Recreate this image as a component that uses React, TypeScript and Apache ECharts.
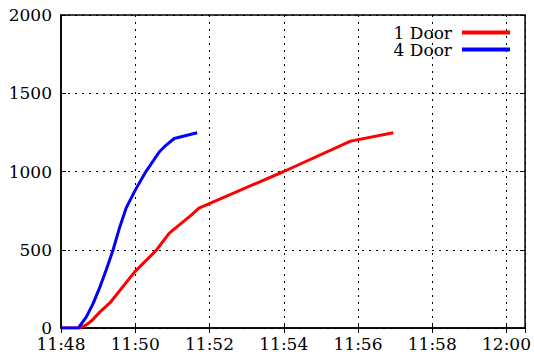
import React, { useEffect, useRef } from "react";
import * as echarts from "echarts";

// Cumulative count over time for the two door configurations
const doorOneTimes = ["11:48:00", "11:48:30", "11:48:40", "11:48:50", "11:49:03", "11:49:19", "11:49:59", "11:50:34", "11:50:55", "11:51:30", "11:51:43", "11:54:00", "11:55:48", "11:56:57"];
const doorOneCounts = [0, 0, 18, 48, 103, 160, 359, 497, 606, 720, 766, 1000, 1194, 1248];

const doorFourTimes = ["11:48:00", "11:48:28", "11:48:41", "11:48:52", "11:49:03", "11:49:13", "11:49:24", "11:49:35", "11:49:45", "11:50:00", "11:50:17", "11:50:39", "11:50:50", "11:51:03", "11:51:40"];
const doorFourCounts = [0, 0, 71, 157, 263, 370, 497, 646, 764, 881, 998, 1126, 1169, 1211, 1248];

const seriesNames = ["1 Door", "4 Door"];
const axisStart = "11:48:00";
const axisEnd = "12:00:30";
const tickStepMinutes = 2;
const yMax = 2000;
const yStep = 500;

const toMs = (hms: string) => {
  const [h, m, s] = hms.split(":").map(Number);
  return Date.UTC(2000, 0, 1, h, m, s);
};

const pad = (n: number) => String(n).padStart(2, "0");

export default function App() {
  const ref = useRef<HTMLDivElement>(null);

  useEffect(() => {
    if (!ref.current) return;
    const chart = echarts.init(ref.current, undefined, { renderer: "svg" });
    const font = "DejaVu Serif";
    const fontSize = 17;
    const xMin = toMs(axisStart);
    const xMax = toMs(axisEnd);
    const step = tickStepMinutes * 60000;
    const fmtTime = (v: number) => {
      if ((v - xMin) % step !== 0) return "";
      const d = new Date(v);
      return `${pad(d.getUTCHours())}:${pad(d.getUTCMinutes())}`;
    };
    const gridDash = { type: [2, 5] as number[], color: "#000", width: 1 };
    const tick = { show: true, inside: true, length: 5, lineStyle: { color: "#000" } };

    chart.setOption({
      animation: false,
      backgroundColor: "#fff",
      textStyle: { fontFamily: font },
      grid: {
        left: 61,
        top: 15,
        right: 5,
        bottom: 30,
        show: true,
        borderColor: "#000",
        borderWidth: 1.5,
        backgroundColor: "transparent",
      },
      legend: {
        orient: "vertical",
        right: 19,
        top: 19,
        align: "right",
        icon: "rect",
        itemWidth: 48,
        itemHeight: 4,
        itemGap: 0,
        textStyle: { fontFamily: font, fontSize, color: "#000", lineHeight: 17, padding: [0, 5, 0, 0] },
        data: seriesNames,
      },
      xAxis: [
        {
          type: "value",
          min: xMin,
          max: xMax,
          interval: step,
          axisLine: { show: true, lineStyle: { color: "#000", width: 1.5 } },
          axisTick: tick,
          axisLabel: { formatter: fmtTime, fontFamily: font, fontSize, lineHeight: 14, color: "#000", margin: 9 },
          splitLine: { show: true, lineStyle: gridDash },
        },
        {
          type: "value",
          position: "top",
          min: xMin,
          max: xMax,
          interval: step,
          axisLine: { show: false },
          axisTick: tick,
          axisLabel: { show: false },
          splitLine: { show: false },
        },
      ],
      yAxis: [
        {
          type: "value",
          min: 0,
          max: yMax,
          interval: yStep,
          axisLine: { show: true, lineStyle: { color: "#000", width: 1.5 } },
          axisTick: tick,
          axisLabel: { formatter: (v: number) => String(v), fontFamily: font, fontSize, lineHeight: 14, color: "#000", margin: 9 },
          splitLine: { show: true, lineStyle: gridDash },
        },
        {
          type: "value",
          position: "right",
          min: 0,
          max: yMax,
          interval: yStep,
          axisLine: { show: false },
          axisTick: tick,
          axisLabel: { show: false },
          splitLine: { show: false },
        },
      ],
      series: [
        {
          name: seriesNames[0],
          type: "line",
          xAxisIndex: 0,
          yAxisIndex: 0,
          showSymbol: false,
          color: "#ff0000",
          lineStyle: { color: "#ff0000", width: 3 },
          data: doorOneTimes.map((t, i) => [toMs(t), doorOneCounts[i]]),
          z: 3,
        },
        {
          name: seriesNames[1],
          type: "line",
          xAxisIndex: 0,
          yAxisIndex: 0,
          showSymbol: false,
          color: "#0000ff",
          lineStyle: { color: "#0000ff", width: 3 },
          data: doorFourTimes.map((t, i) => [toMs(t), doorFourCounts[i]]),
          z: 3,
        },
      ],
    });
    return () => chart.dispose();
  }, []);

  return (
    <div
      ref={ref}
      style={{ position: "fixed", left: 0, top: 0, width: 534, height: 358, background: "#fff" }}
    />
  );
}
